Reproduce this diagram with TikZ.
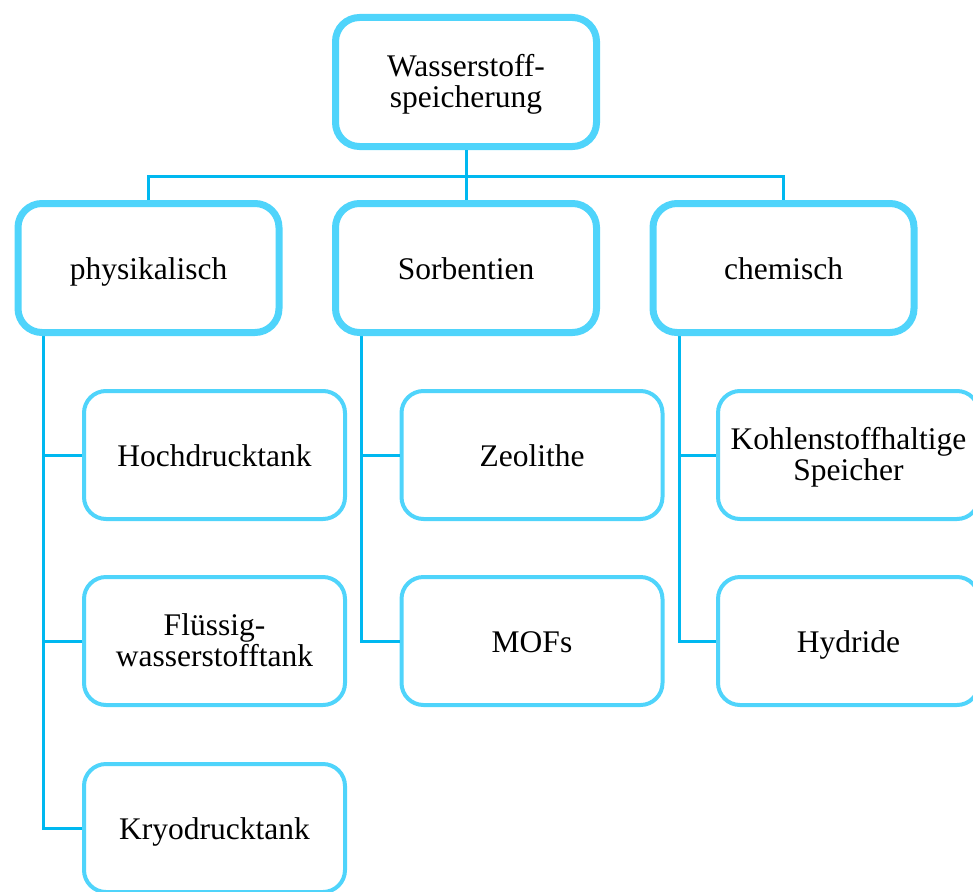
\documentclass[tikz,border=0pt]{standalone}
\usepackage{fontspec}
\setmainfont{Liberation Serif}
\definecolor{boxcol}{HTML}{4FD4FB}
\definecolor{linecol}{HTML}{00B8F0}
\newcommand{\onel}[1]{\raisebox{-11pt}[0pt][0pt]{#1}}
\newcommand{\twol}[2]{\raisebox{6pt}[0pt][0pt]{\begin{tabular}[t]{@{}c@{}}#1\\#2\end{tabular}}}
\begin{document}
\begin{tikzpicture}[x=1pt,y=-1pt,
  bigbox/.style={draw=boxcol, line width=7pt, rounded corners=24pt, fill=white,
    minimum width=261pt, minimum height=129pt, inner sep=0pt,
    font=\fontsize{31.5}{31}\selectfont},
  smallbox/.style={draw=boxcol, line width=4pt, rounded corners=22pt, fill=white,
    minimum width=261pt, minimum height=128pt, inner sep=0pt,
    font=\fontsize{31.5}{31}\selectfont},
  conn/.style={draw=linecol, line width=3pt}]
\useasboundingbox (0,0) rectangle (973,891);
\coordinate (bus) at (466,176);
\coordinate (pt) at (43,334);
\coordinate (st) at (361,334);
\coordinate (ct) at (679,334);
\node[smallbox] (hoch) at (214.5,455) {\onel{Hochdrucktank}};
\node[smallbox] (fl) at (214.5,641) {\twol{Flüssig-}{wasserstofftank}};
\node[smallbox] (kryo) at (214.5,828) {\onel{Kryodrucktank}};
\node[smallbox] (zeo) at (532,455) {\onel{Zeolithe}};
\node[smallbox] (mof) at (532,641) {\onel{MOFs}};
\node[smallbox] (kohl) at (848.5,455) {\twol{Kohlenstoffhaltige}{Speicher}};
\node[smallbox] (hyd) at (848.5,641) {\onel{Hydride}};
\draw[conn] (pt) |- (kryo.west);
\draw[conn] (hoch.west) -- (hoch.west -| pt);
\draw[conn] (fl.west) -- (fl.west -| pt);
\draw[conn] (st) |- (mof.west);
\draw[conn] (zeo.west) -- (zeo.west -| st);
\draw[conn] (ct) |- (hyd.west);
\draw[conn] (kohl.west) -- (kohl.west -| ct);
\node[bigbox] (top) at (466,82) {\twol{Wasserstoff-}{speicherung}};
\node[bigbox] (phys) at (148.5,268) {\onel{physikalisch}};
\node[bigbox] (sorb) at (466,268) {\onel{Sorbentien}};
\node[bigbox] (chem) at (783.5,268) {\onel{chemisch}};
\draw[conn] (top.south) -- (sorb.north);
\draw[conn] (phys.north) |- (bus) -| (chem.north);
\end{tikzpicture}
\end{document}
